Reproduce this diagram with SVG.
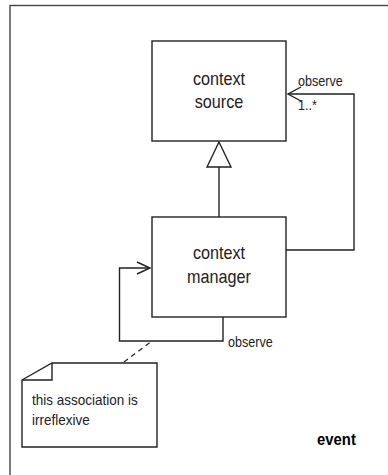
<svg xmlns="http://www.w3.org/2000/svg" width="388" height="475" viewBox="0 0 388 475">
  <style>
    .frame { fill: none; stroke: #444; stroke-width: 1.4; }
    .box { fill: #fff; stroke: #222; stroke-width: 1.4; }
    .line { fill: none; stroke: #222; stroke-width: 1.4; }
    .dash { fill: none; stroke: #222; stroke-width: 1.2; stroke-dasharray: 5 4; }
    text { font-family: "Liberation Sans", Arial, sans-serif; fill: #222; }
    .name { font-size: 18px; text-anchor: middle; }
    .label { font-size: 14px; }
    .note { font-size: 15px; }
    .event { font-size: 16px; font-weight: bold; fill: #000; }
  </style>

  <!-- surrounding frame, continues past the right and bottom edges -->
  <rect class="frame" x="10" y="5.5" width="400" height="500"/>

  <g id="connectors">
    <!-- generalization: context manager -> context source -->
    <line class="line" x1="219" y1="167" x2="219" y2="217"/>
    <polygon class="box" points="219,142 207,167 231,167"/>

    <!-- observe association to context source -->
    <polyline class="line" points="286,250 354,250 354,94 288,94"/>
    <polyline class="line" points="301,87 288,94 301,101"/>

    <!-- self association on context manager -->
    <polyline class="line" points="223,317 223,341 119.5,341 119.5,268 150,268"/>
    <polyline class="line" points="137,262 150,268 137,274"/>

    <!-- note anchor -->
    <line class="dash" x1="124" y1="362" x2="152" y2="341"/>

    <text class="label" transform="translate(298,86) scale(0.9,1)">observe</text>
    <text class="label" transform="translate(298,110) scale(0.9,1)">1..*</text>
    <text class="label" transform="translate(228,347) scale(0.9,1)">observe</text>
  </g>

  <g id="context-source">
    <rect class="box" x="152" y="41" width="134" height="100"/>
    <text class="name" transform="translate(219,85) scale(0.9,1)">context</text>
    <text class="name" transform="translate(219,108) scale(0.9,1)">source</text>
  </g>

  <g id="context-manager">
    <rect class="box" x="152" y="217" width="134" height="100"/>
    <text class="name" transform="translate(219,259) scale(0.9,1)">context</text>
    <text class="name" transform="translate(219,283) scale(0.9,1)">manager</text>
  </g>

  <g id="note">
    <polygon class="box" points="22,380 52,363 157,363 157,447 22,447"/>
    <polyline class="line" points="52,363 52,380 22,380"/>
    <text class="note" transform="translate(32,405) scale(0.9,1)">this association is</text>
    <text class="note" transform="translate(32,425) scale(0.9,1)">irreflexive</text>
  </g>

  <g id="event">
    <text class="event" transform="translate(317,445) scale(0.93,1)">event</text>
  </g>
</svg>
